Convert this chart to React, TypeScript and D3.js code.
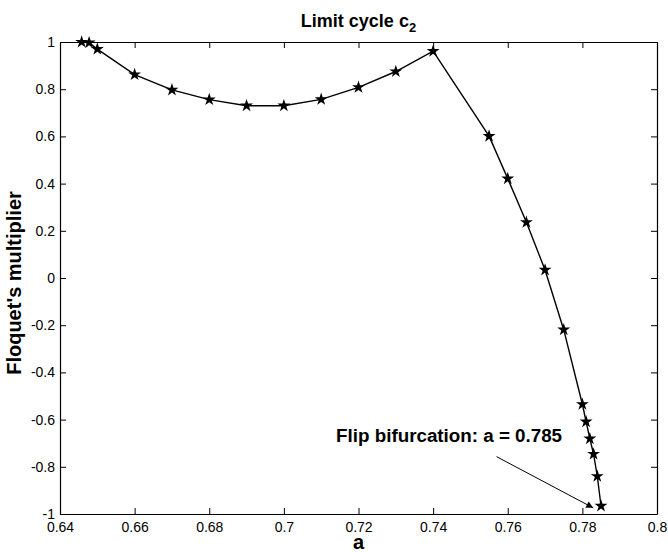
import React, { useEffect, useRef } from 'react'
import * as d3 from 'd3'

// parameter a and the Floquet multiplier
const aValues = [
  0.6458, 0.6478, 0.65, 0.66, 0.67, 0.68, 0.69, 0.7, 0.71, 0.72, 0.73, 0.74,
  0.755, 0.76, 0.765, 0.77, 0.775, 0.78, 0.781, 0.782, 0.783, 0.784, 0.785,
]
const multipliers = [
  1.0, 0.997, 0.97, 0.862, 0.797, 0.756, 0.73, 0.73, 0.757, 0.808, 0.875, 0.961,
  0.601, 0.421, 0.236, 0.034, -0.219, -0.535, -0.609, -0.681, -0.746, -0.84, -0.966,
]
const xTicks = [0.64, 0.66, 0.68, 0.7, 0.72, 0.74, 0.76, 0.78, 0.8]
const yTicks = [-1, -0.8, -0.6, -0.4, -0.2, 0, 0.2, 0.4, 0.6, 0.8, 1]

const annotationText = 'Flip bifurcation: a = 0.785'
const annotationAt = { a: 0.714, m: -0.693 }
const arrowFrom = { a: 0.757, m: -0.757 }
const arrowTo = { a: 0.7829, m: -0.974 }

const FONT = '"Liberation Sans", Arial, Helvetica, sans-serif'

const App = () => {
  const ref = useRef<SVGSVGElement | null>(null)

  useEffect(() => {
    const width = 668
    const height = 552
    const margin = { top: 42, right: 11, bottom: 38, left: 60 }

    const svg = d3.select(ref.current)
    svg.selectAll('*').remove()
    svg.attr('width', width).attr('height', height)

    const x = d3.scaleLinear().domain([0.64, 0.8]).range([margin.left, width - margin.right])
    const y = d3.scaleLinear().domain([-1, 1]).range([height - margin.bottom, margin.top])
    const fmt = (d: d3.NumberValue) => String(+(+d).toFixed(2))

    const styleAxis = (g: d3.Selection<SVGGElement, unknown, null, undefined>) => {
      g.select('.domain').attr('stroke', '#000').attr('stroke-width', 1.2)
      g.selectAll('.tick line').attr('stroke', '#000')
      g.selectAll('.tick text').attr('fill', '#000').style('font-family', FONT).style('font-size', '14px')
    }

    svg
      .append('g')
      .attr('transform', `translate(0,${y(-1)})`)
      .call(d3.axisBottom(x).tickValues(xTicks).tickFormat(fmt).tickSizeInner(-6).tickSizeOuter(0).tickPadding(8))
      .call(styleAxis)
    svg
      .append('g')
      .attr('transform', `translate(0,${y(1)})`)
      .call(d3.axisTop(x).tickValues(xTicks).tickFormat(() => '').tickSizeInner(-6).tickSizeOuter(0))
      .call(styleAxis)
    svg
      .append('g')
      .attr('transform', `translate(${x(0.64)},0)`)
      .call(d3.axisLeft(y).tickValues(yTicks).tickFormat(fmt).tickSizeInner(-6).tickSizeOuter(0).tickPadding(5))
      .call(styleAxis)
    svg
      .append('g')
      .attr('transform', `translate(${x(0.8)},0)`)
      .call(d3.axisRight(y).tickValues(yTicks).tickFormat(() => '').tickSizeInner(-6).tickSizeOuter(0))
      .call(styleAxis)

    const points = aValues.map((a, i) => [a, multipliers[i]] as [number, number])

    const line = d3
      .line<[number, number]>()
      .x((d) => x(d[0]))
      .y((d) => y(d[1]))

    svg
      .append('path')
      .datum(points)
      .attr('d', line)
      .attr('fill', 'none')
      .attr('stroke', '#000')
      .attr('stroke-width', 1.4)

    const star = d3.symbol().type(d3.symbolStar).size(52)
    svg
      .append('g')
      .selectAll('path')
      .data(points)
      .enter()
      .append('path')
      .attr('transform', (d) => `translate(${x(d[0])},${y(d[1])})`)
      .attr('d', star)
      .attr('fill', '#000')

    // annotation and arrow
    svg
      .append('defs')
      .append('marker')
      .attr('id', 'arrowhead')
      .attr('viewBox', '0 0 10 10')
      .attr('refX', 10)
      .attr('refY', 5)
      .attr('markerWidth', 9)
      .attr('markerHeight', 7)
      .attr('markerUnits', 'userSpaceOnUse')
      .attr('orient', 'auto')
      .append('path')
      .attr('d', 'M0,0L10,5L0,10Z')
      .attr('fill', '#000')

    svg
      .append('line')
      .attr('x1', x(arrowFrom.a))
      .attr('y1', y(arrowFrom.m))
      .attr('x2', x(arrowTo.a))
      .attr('y2', y(arrowTo.m))
      .attr('stroke', '#000')
      .attr('stroke-width', 1)
      .attr('marker-end', 'url(#arrowhead)')

    svg
      .append('text')
      .attr('x', x(annotationAt.a))
      .attr('y', y(annotationAt.m))
      .style('font-family', FONT)
      .style('font-size', '18.8px')
      .style('font-weight', 'bold')
      .text(annotationText)

    // title
    const title = svg
      .append('text')
      .attr('x', (x(0.64) + x(0.8)) / 2)
      .attr('y', 27)
      .attr('text-anchor', 'middle')
      .style('font-family', FONT)
      .style('font-size', '18px')
      .style('font-weight', 'bold')
    title.append('tspan').text('Limit cycle c')
    title.append('tspan').attr('dy', 5).style('font-size', '13px').text('2')

    // axis labels
    svg
      .append('text')
      .attr('x', (x(0.64) + x(0.8)) / 2)
      .attr('y', 549)
      .attr('text-anchor', 'middle')
      .style('font-family', FONT)
      .style('font-size', '20px')
      .style('font-weight', 'bold')
      .text('a')

    svg
      .append('text')
      .attr('transform', `translate(21,283) rotate(-90)`)
      .attr('text-anchor', 'middle')
      .style('font-family', FONT)
      .style('font-size', '20px')
      .style('font-weight', 'bold')
      .text("Floquet's multiplier")

    return () => {
      svg.selectAll('*').remove()
    }
  }, [])

  return (
    <div style={{ position: 'absolute', left: 0, top: 0, background: '#fff' }}>
      <svg ref={ref}></svg>
    </div>
  )
}

export default App
